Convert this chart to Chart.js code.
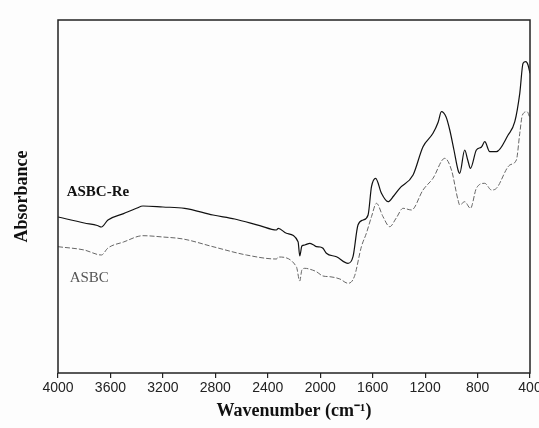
<!DOCTYPE html>
<html>
<head>
<meta charset="utf-8">
<script src="https://cdn.jsdelivr.net/npm/chart.js@4"></script>
<style>
  html, body { margin: 0; padding: 0; background: #fdfdfd; overflow: hidden; }
</style>
</head>
<body>
<canvas id="ftirChart" width="539" height="428"></canvas>
<script>
// ASBC-Re (solid line)
const reWavenumbers = [4000, 3800, 3700, 3669, 3619, 3500, 3402, 3352, 3200, 3034, 2818, 2652, 2461, 2334, 2320, 2258, 2169, 2156, 2140, 2118, 2080, 2050, 2029, 2000, 1979, 1953, 1876, 1788, 1750, 1712, 1673, 1635, 1609, 1577, 1533, 1483, 1440, 1394, 1292, 1216, 1140, 1100, 1076, 1040, 1012, 980, 949, 936, 898, 875, 854, 809, 770, 745, 707, 656, 567, 516, 478, 453, 432, 415, 400];
const reAbsorbance = [156, 150, 147.5, 146, 153, 159.4, 164.7, 167, 166, 164.7, 158, 154, 147.3, 143, 144.7, 139.7, 131.3, 117, 127, 128, 129.7, 128, 126.3, 126, 124.7, 119.7, 116.3, 109.7, 116.3, 148, 153, 158, 186.3, 194.7, 179.7, 171.3, 177, 184.7, 198, 226.3, 239.7, 251, 261.3, 256, 243, 223, 203, 199.7, 223, 213, 204.7, 223, 226, 231.3, 221.3, 221.3, 238, 251.3, 279.7, 309.7, 311.3, 308, 299.7];

// ASBC (dashed line)
const asbcWavenumbers = [4000, 3800, 3669, 3619, 3500, 3352, 3200, 3046, 2818, 2563, 2334, 2320, 2182, 2156, 2140, 2118, 2060, 2029, 1979, 1927, 1850, 1788, 1740, 1686, 1648, 1609, 1571, 1521, 1470, 1420, 1368, 1304, 1216, 1140, 1050, 999, 949, 936, 898, 854, 809, 745, 694, 656, 554, 504, 478, 458, 422, 400];
const asbcAbsorbance = [126.3, 123, 118, 125, 131, 137.3, 136, 134, 126.3, 118, 114, 116, 106.3, 92, 103, 104.7, 103, 101.3, 97, 96.3, 94, 89.7, 96.3, 126.3, 139.7, 156.3, 169.7, 156.3, 146.3, 155, 164.7, 163, 183, 194.7, 214.7, 203, 173, 168, 171.3, 164.7, 184.7, 189.7, 183, 184.7, 208, 213, 239.7, 258, 261.3, 254.7];

const xTicks = [4000, 3600, 3200, 2800, 2400, 2000, 1600, 1200, 800, 400];

function toPoints(xs, ys) {
  return xs.map(function (x, i) { return { x: x, y: ys[i] }; });
}

const frame = {
  id: 'frame',
  afterDraw(chart) {
    const a = chart.chartArea;
    const ctx = chart.ctx;
    ctx.save();
    ctx.strokeStyle = '#222';
    ctx.lineWidth = 1.5;
    ctx.strokeRect(a.left, a.top, a.right - a.left, a.bottom - a.top);
    // curve labels
    const xs = chart.scales.x, ys = chart.scales.y;
    ctx.textBaseline = 'middle';
    ctx.textAlign = 'left';
    ctx.fillStyle = '#111';
    ctx.font = 'bold 15px "Liberation Serif", "Times New Roman", serif';
    ctx.fillText('ASBC-Re', xs.getPixelForValue(3934), ys.getPixelForValue(181));
    ctx.fillStyle = '#555';
    ctx.font = '15px "Liberation Serif", "Times New Roman", serif';
    ctx.fillText('ASBC', xs.getPixelForValue(3911), ys.getPixelForValue(95));
    ctx.restore();
  }
};

new Chart(document.getElementById('ftirChart'), {
  type: 'line',
  data: {
    datasets: [{
      label: 'ASBC-Re',
      data: toPoints(reWavenumbers, reAbsorbance),
      borderColor: '#111',
      borderWidth: 1.2,
      pointRadius: 0,
      cubicInterpolationMode: 'monotone'
    }, {
      label: 'ASBC',
      data: toPoints(asbcWavenumbers, asbcAbsorbance),
      borderColor: '#666',
      borderWidth: 1,
      borderDash: [5, 2],
      pointRadius: 0,
      cubicInterpolationMode: 'monotone'
    }]
  },
  options: {
    responsive: false,
    animation: false,
    layout: { padding: { top: 20, right: 9, bottom: 0, left: 0 } },
    plugins: { legend: { display: false }, tooltip: { enabled: false } },
    scales: {
      x: {
        type: 'linear',
        reverse: true,
        min: 400,
        max: 4000,
        afterBuildTicks(scale) {
          scale.ticks = xTicks.map(function (v) { return { value: v }; });
        },
        afterFit(scale) {
          scale.height = 55;
          scale.paddingLeft = 0;
          scale.paddingRight = 0;
        },
        grid: { drawOnChartArea: false, tickLength: 5, color: '#222', lineWidth: 1.2 },
        border: { display: false },
        ticks: {
          color: '#222', padding: 2, maxRotation: 0,
          font: { family: '"Liberation Sans", Arial, sans-serif', size: 14 },
          callback: function (v) { return String(v); }
        },
        title: {
          display: true,
          text: 'Wavenumber (cm⁻¹)',
          color: '#111',
          padding: { top: 0, bottom: 6 },
          font: { family: '"Liberation Serif", "Times New Roman", serif', size: 18, weight: 'bold' }
        }
      },
      y: {
        min: 0,
        max: 353,
        afterFit(scale) { scale.width = 58; },
        grid: { display: false },
        border: { display: false },
        ticks: { display: false },
        title: {
          display: true,
          text: 'Absorbance',
          color: '#111',
          padding: { top: 12, bottom: 0 },
          font: { family: '"Liberation Serif", "Times New Roman", serif', size: 18, weight: 'bold' }
        }
      }
    }
  },
  plugins: [frame]
});
</script>
</body>
</html>
